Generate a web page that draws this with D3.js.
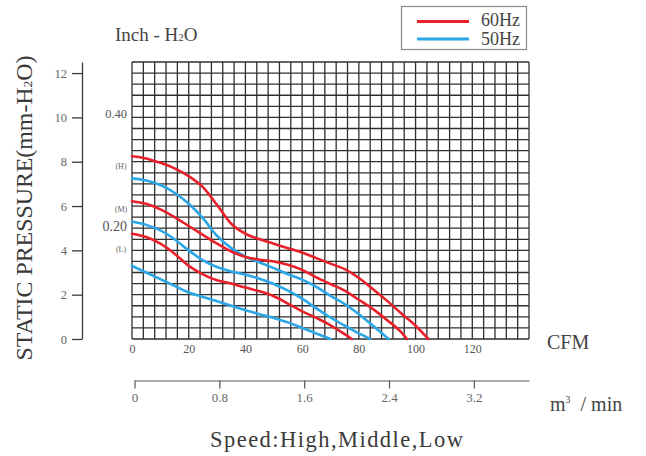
<!DOCTYPE html>
<html>
<head>
<meta charset="utf-8">
<script src="https://cdn.jsdelivr.net/npm/d3@7"></script>
<style>
  html, body { margin: 0; padding: 0; background: #fff; }
  svg { display: block; font-family: "Liberation Serif", "Times New Roman", serif; }
</style>
</head>
<body>
<svg id="chart" width="646" height="456"></svg>
<script>
// ---- data (CFM vs static pressure mm-H2O) ----
const cfm60H = [0, 5, 10, 15, 20, 25, 30, 35, 40, 45, 50, 55, 60, 65, 70, 75, 80, 85, 90, 95, 100, 104.5];
const mm60H  = [8.25, 8.15, 7.95, 7.7, 7.35, 6.85, 6.05, 5.2, 4.75, 4.5, 4.3, 4.1, 3.9, 3.65, 3.4, 3.15, 2.75, 2.25, 1.72, 1.15, 0.6, 0];

const cfm50H = [0, 5, 10, 15, 20, 25, 30, 35, 40, 45, 50, 55, 60, 65, 70, 75, 80, 85, 90.5];
const mm50H  = [7.25, 7.15, 6.95, 6.6, 6.1, 5.45, 4.65, 4.1, 3.72, 3.45, 3.2, 2.92, 2.68, 2.35, 1.95, 1.58, 1.12, 0.6, 0];

const cfm60M = [0, 5, 10, 15, 20, 25, 30, 35, 40, 45, 50, 55, 60, 65, 70, 75, 80, 85, 90, 95, 97];
const mm60M  = [6.22, 6.1, 5.85, 5.5, 5.1, 4.7, 4.3, 3.95, 3.7, 3.58, 3.5, 3.35, 3.12, 2.78, 2.48, 2.18, 1.77, 1.35, 0.85, 0.3, 0];

const cfm50M = [0, 5, 10, 15, 20, 25, 30, 35, 40, 45, 50, 55, 60, 65, 70, 75, 80, 84];
const mm50M  = [5.3, 5.15, 4.9, 4.5, 4.0, 3.55, 3.25, 3.05, 2.9, 2.72, 2.48, 2.18, 1.82, 1.38, 0.97, 0.6, 0.25, 0];

const cfm60L = [0, 5, 10, 15, 20, 25, 30, 35, 40, 45, 50, 55, 60, 65, 70, 75, 77.5];
const mm60L  = [4.75, 4.6, 4.3, 3.85, 3.3, 2.92, 2.65, 2.5, 2.32, 2.15, 1.93, 1.6, 1.25, 0.95, 0.62, 0.22, 0];

const cfm50L = [0, 5, 10, 15, 20, 25, 30, 35, 40, 45, 50, 55, 60, 65, 70];
const mm50L  = [3.3, 3.0, 2.7, 2.4, 2.1, 1.9, 1.7, 1.5, 1.3, 1.12, 0.95, 0.75, 0.5, 0.25, 0];

const seriesNames = ["60Hz", "50Hz"];
const seriesColors = ["#e8202a", "#2ba6e6"];

const mmTicks = [0, 2, 4, 6, 8, 10, 12];
const cfmTicks = [0, 20, 40, 60, 80, 100, 120];
const m3Ticks = [0, 0.8, 1.6, 2.4, 3.2];
const inchTicks = [0.20, 0.40];
const speedLabels = ["(H)", "(M)", "(L)"];
const speedLabelMM = [7.8, 5.85, 4.05];

// ---- scales ----
const svg = d3.select("#chart");
const x = d3.scaleLinear().domain([0, 140]).range([132, 529]);
const y = d3.scaleLinear().domain([0, 12.5]).range([339, 62]);
const xm3 = d3.scaleLinear().domain([0, 3.72]).range([134.5, 529]);

const textCol = "#444";

// ---- grid ----
const grid = svg.append("g");
grid.selectAll("line.v").data(d3.range(0, 140.1, 4)).enter().append("line")
  .attr("x1", d => x(d)).attr("x2", d => x(d))
  .attr("y1", y(12.5)).attr("y2", y(0))
  .attr("stroke", "#2f2f2f").attr("stroke-width", 1.3);
grid.selectAll("line.h").data(d3.range(0, 12.51, 0.5)).enter().append("line")
  .attr("y1", d => y(d)).attr("y2", d => y(d))
  .attr("x1", x(0)).attr("x2", x(140))
  .attr("stroke", "#2f2f2f").attr("stroke-width", 1.3);

// ---- curves ----
const line = d3.line().x(d => x(d[0])).y(d => y(d[1])).curve(d3.curveMonotoneX);
const curves = [
  [cfm60H, mm60H, 0], [cfm50H, mm50H, 1],
  [cfm60M, mm60M, 0], [cfm50M, mm50M, 1],
  [cfm60L, mm60L, 0], [cfm50L, mm50L, 1]
];
curves.forEach(([xs, ys, s]) => {
  svg.append("path")
    .datum(xs.map((v, i) => [v, ys[i]]))
    .attr("d", line)
    .attr("fill", "none")
    .attr("stroke", seriesColors[s])
    .attr("stroke-width", 2.6)
    .attr("stroke-linecap", "round");
});

// ---- left mm axis ----
const yAxis = svg.append("g").attr("transform", "translate(82,0)")
  .call(d3.axisLeft(y).tickValues(mmTicks).tickSize(10).tickSizeOuter(0).tickPadding(5).tickFormat(d3.format("d")));
yAxis.select(".domain").attr("stroke", "#3a3a3a").attr("stroke-width", 1.3);
yAxis.selectAll(".tick line").attr("stroke", "#3a3a3a").attr("stroke-width", 1.3);
yAxis.selectAll(".tick text").attr("fill", "#666").style("font-size", "12.5px")
  .style("font-family", "Liberation Serif, serif");

// ---- inch labels ----
svg.selectAll("text.inch").data(inchTicks).enter().append("text")
  .attr("x", 127).attr("y", d => y(d * 25.4)).attr("dy", "0.35em")
  .attr("text-anchor", "end").attr("fill", "#555")
  .style("font-size", (d, i) => i === 0 ? "14px" : "12.5px")
  .text(d => d.toFixed(2));
svg.selectAll("text.spd").data(speedLabels).enter().append("text")
  .attr("x", 121).attr("y", (d, i) => y(speedLabelMM[i])).attr("dy", "0.35em")
  .attr("text-anchor", "middle").attr("fill", "#666").style("font-size", "8px")
  .text(d => d);

// ---- CFM axis labels ----
const xAxis = svg.append("g").attr("transform", `translate(0,${y(0)})`)
  .call(d3.axisBottom(x).tickValues(cfmTicks).tickSize(0).tickPadding(5));
xAxis.select(".domain").remove();
xAxis.selectAll(".tick text").attr("fill", "#555").style("font-size", "12px")
  .style("font-family", "Liberation Serif, serif");

svg.append("text").attr("x", 547).attr("y", 349).attr("fill", textCol)
  .style("font-size", "20px").text("CFM");

// ---- m3/min axis ----
const m3Axis = svg.append("g").attr("transform", "translate(0,380.5)")
  .call(d3.axisBottom(xm3).tickValues(m3Ticks).tickSize(8).tickSizeOuter(0).tickPadding(4)
    .tickFormat(d => d === 0 ? "0" : d3.format(".1f")(d)));
m3Axis.select(".domain").attr("stroke", "#555").attr("stroke-width", 1.2);
m3Axis.selectAll(".tick line").attr("stroke", "#555").attr("stroke-width", 1.2);
m3Axis.selectAll(".tick text").attr("fill", "#666").style("font-size", "13px")
  .style("font-family", "Liberation Serif, serif");

const m3Label = svg.append("text").attr("x", 550).attr("y", 411).attr("fill", textCol)
  .style("font-size", "20px");
m3Label.append("tspan").text("m");
m3Label.append("tspan").attr("dy", -8).style("font-size", "10px").text("3");
m3Label.append("tspan").attr("dy", 8).text(" \u00a0/ min");

// ---- Inch - H2O ----
const inch = svg.append("text").attr("x", 115).attr("y", 41).attr("fill", textCol)
  .style("font-size", "19px");
inch.append("tspan").text("Inch - H");
inch.append("tspan").style("font-size", "11px").text("2");
inch.append("tspan").text("O");

// ---- y title ----
const yt = svg.append("text")
  .attr("transform", "translate(32,208) rotate(-90)")
  .attr("text-anchor", "middle").attr("fill", "#3a3a3a")
  .style("font-size", "23px")
  .attr("textLength", 305).attr("lengthAdjust", "spacingAndGlyphs");
yt.append("tspan").text("STATIC PRESSURE(mm-H");
yt.append("tspan").style("font-size", "13px").text("2");
yt.append("tspan").text("O)");

// ---- bottom caption ----
svg.append("text").attr("x", 210).attr("y", 447).attr("fill", "#3a3a3a")
  .style("font-size", "22.5px")
  .attr("textLength", 253).attr("lengthAdjust", "spacing")
  .text("Speed:High,Middle,Low");

// ---- legend ----
const lg = svg.append("g");
lg.append("rect").attr("x", 401.5).attr("y", 6.5).attr("width", 125).attr("height", 43)
  .attr("fill", "#fff").attr("stroke", "#8a8a8a").attr("stroke-width", 1.2);
seriesNames.forEach((n, i) => {
  const ly = [21.5, 39][i];
  lg.append("line").attr("x1", 417).attr("x2", 469).attr("y1", ly).attr("y2", ly)
    .attr("stroke", seriesColors[i]).attr("stroke-width", 2.8);
  lg.append("text").attr("x", 481).attr("y", ly + 4 + (i === 0 ? 0 : 1.5)).attr("fill", "#444")
    .style("font-size", "18px").text(n);
});
</script>
</body>
</html>
